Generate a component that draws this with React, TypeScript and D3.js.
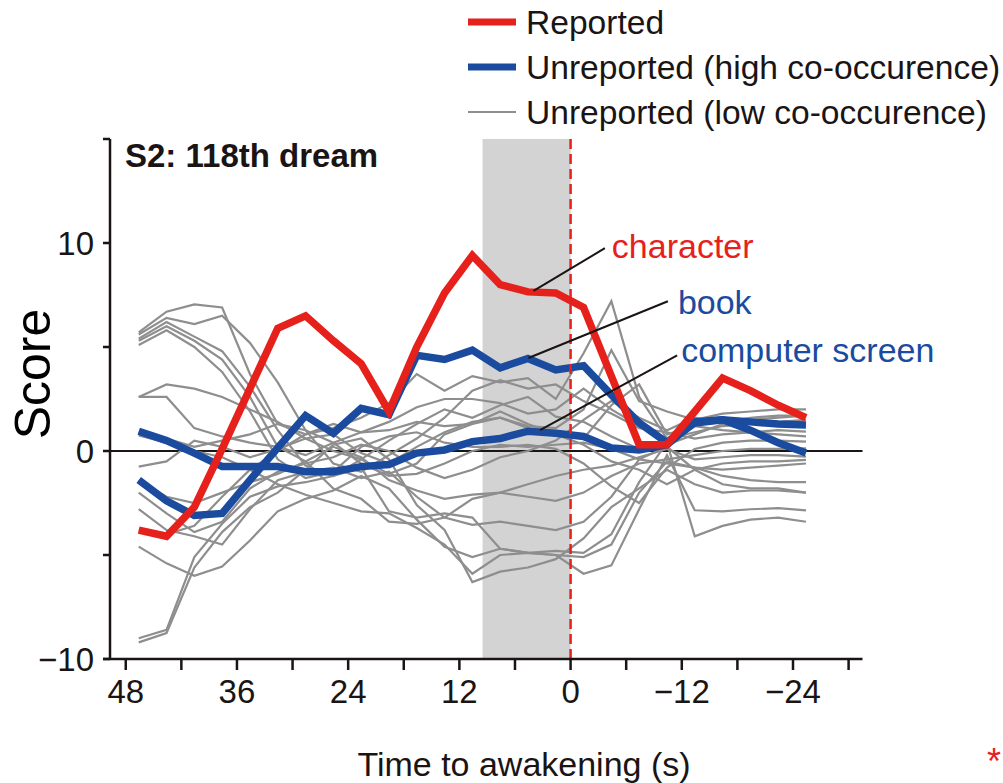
import React from 'react';
import * as d3 from 'd3';

// sample times (s before awakening)
const times = [46.6, 43.6, 40.6, 37.6, 34.6, 31.6, 28.6, 25.6, 22.6, 19.6, 16.6, 13.6, 10.6, 7.6, 4.6, 1.6, -1.4, -4.4, -7.4, -10.4, -13.4, -16.4, -19.4, -22.4, -25.4];

const reported = [-3.8, -4.1, -2.7, 0.1, 3.0, 5.9, 6.5, 5.3, 4.2, 1.9, 5.0, 7.6, 9.4, 8.0, 7.65, 7.6, 6.9, 3.6, 0.3, 0.3, 1.9, 3.5, 2.9, 2.2, 1.6];
const unreportedBook = [-1.4, -2.4, -3.1, -3.0, -1.4, 0.15, 1.7, 0.85, 2.05, 1.75, 4.6, 4.4, 4.85, 4.0, 4.45, 3.9, 4.1, 2.7, 1.35, 0.4, 1.35, 1.5, 1.0, 0.4, -0.1];
const unreportedScreen = [0.95, 0.5, -0.1, -0.75, -0.75, -0.75, -1.0, -1.0, -0.75, -0.65, -0.1, 0.05, 0.45, 0.6, 0.95, 0.85, 0.7, 0.15, 0.05, 0.3, 1.4, 1.5, 1.4, 1.3, 1.25];

const low01 = [5.7, 6.7, 7.05, 6.9, 3.7, 1.3, 0.8, 1.1, 1.6, 2.3, 3.7, 2.9, 3.6, 3.3, 3.5, 2.5, 4.7, 7.2, 2.6, 0.6, 1.5, 1.8, 1.9, 2.0, 2.0];
const low02 = [5.6, 6.4, 6.1, 6.5, 5.2, 3.3, 1.0, -0.6, -1.0, -0.2, 0.6, 1.6, 2.9, 3.4, 3.0, 3.2, 2.4, 1.8, 1.1, 0.9, 0.6, 0.8, 0.9, 1.0, 0.93];
const low03 = [5.4, 6.2, 5.5, 4.8, 3.1, 1.0, -0.7, -1.2, -0.4, 0.5, 1.3, 2.0, 1.6, 2.2, 2.6, 1.65, 1.4, 0.7, 0.1, 0.3, 0.8, 1.3, 1.5, 1.6, 1.7];
const low04 = [5.3, 6.0, 5.3, 4.4, 2.6, 0.2, -0.2, 0.4, 0.9, 1.0, 1.4, 1.2, 1.3, 1.9, 1.3, 0.8, 0.3, -0.5, -0.9, -1.6, -0.9, -0.6, -0.5, -0.5, -0.43];
const low05 = [5.1, 5.8, 5.0, 3.8, 1.9, -0.4, -1.3, -1.0, 0.2, 0.7, 0.9, 0.4, 0.2, 0.2, 0.3, 0.1, -0.6, -1.7, -2.5, -0.8, 0.1, 0.4, 0.5, 0.5, 0.45];
const low06 = [2.6, 3.2, 3.0, 2.6, 2.0, 1.4, 0.6, 0.0, -0.4, -1.1, -0.6, 0.8, 1.3, 1.6, 1.1, 0.8, 0.6, 2.2, 3.2, 0.8, 1.2, 1.0, 0.9, 0.8, 0.7];
const low07 = [2.6, 2.6, 1.1, 0.7, 0.4, 0.2, -0.5, -1.8, -2.3, -3.4, -3.5, -3.2, -2.3, -2.0, -2.2, -2.4, -2.0, -1.2, -0.6, -0.4, -0.2, 0.0, 0.1, 0.1, 0.13];
const low08 = [0.75, 0.4, 0.0, -0.3, -0.9, -1.6, -2.1, -2.5, -2.9, -3.0, -3.7, -4.5, -5.9, -5.0, -4.9, -5.0, -5.1, -4.5, -2.0, -0.5, -0.8, -1.2, -1.4, -1.5, -1.5];
const low09 = [-0.75, -0.5, 0.5, 0.2, -0.3, 0.1, 0.6, 0.8, -0.1, -0.6, 0.2, 0.9, 1.4, 1.6, 1.2, 1.1, 2.0, 4.85, 2.4, 1.9, 1.5, 1.4, 1.6, 1.7, 1.7];
const low10 = [-2.0, -3.0, -3.9, -3.4, -1.8, -1.0, -0.6, -0.3, 0.3, 0.0, -0.8, -1.3, -0.9, -0.3, 0.0, 0.5, 1.5, 2.4, 1.6, 1.0, 1.6, 1.4, 1.3, 1.3, 1.25];
const low11 = [-2.8, -3.8, -4.1, -4.5, -2.8, -1.4, -1.0, -0.8, -1.3, -1.0, -2.2, -3.2, -3.55, -3.4, -3.6, -3.8, -3.4, -2.2, -0.4, 0.2, -0.9, -1.6, -1.8, -1.8, -2.0];
const low12 = [-4.6, -5.4, -6.0, -5.55, -4.3, -2.9, -2.3, -1.9, -1.2, -1.8, -3.3, -4.6, -5.1, -4.7, -4.9, -5.0, -5.9, -5.5, -2.8, -0.2, -2.85, -2.9, -2.8, -2.75, -2.85];
const low13 = [-9.0, -8.6, -5.1, -3.5, -2.2, -1.7, -1.5, -1.2, -0.8, -2.9, -3.2, -3.0, -3.2, -4.7, -4.9, -4.8, -4.9, -4.0, -1.5, 0.4, -4.1, -3.6, -3.3, -3.2, -3.4];
const low14 = [-9.2, -8.75, -5.6, -3.9, -2.7, -2.0, -0.9, 0.3, 0.6, -0.4, -2.6, -3.8, -6.3, -5.8, -5.6, -5.2, -4.2, -2.7, -1.8, -0.9, -1.6, -2.0, -1.9, -1.9, -2.0];
const low15 = [-3.8, -4.0, -3.6, -2.2, -0.9, 0.0, 0.8, 1.3, 0.9, 1.4, 2.1, 2.5, 2.5, 2.3, 1.8, 2.0, 3.0, 2.0, 1.2, 0.6, 0.9, 1.2, 1.3, 1.4, 1.5];
const low16 = [-1.4, -2.2, -2.5, -2.0, -1.5, -1.1, -0.5, 0.2, -0.3, -1.4, -1.9, -2.3, -2.1, -2.0, -1.6, -1.2, -0.9, -0.7, -0.3, 0.1, -0.4, -0.3, -0.2, -0.2, -0.27];
const low17 = [0.9, 0.6, 0.2, 0.5, 0.8, 1.3, 1.0, 0.4, -0.6, -1.2, -1.1, -0.6, 0.0, 0.3, 0.2, 0.3, 0.4, 0.1, -0.4, -0.6, -0.8, -0.9, -0.8, -0.7, -0.6];

const lowSeries = [low01, low02, low03, low04, low05, low06, low07, low08, low09, low10, low11, low12, low13, low14, low15, low16, low17];

const xTicks = [48, 42, 36, 30, 24, 18, 12, 6, 0, -6, -12, -18, -24, -30];
const xLabels = [48, 36, 24, 12, 0, -12, -24];
const yTicks = [-10, -5, 0, 5, 10, 15];
const yLabels = [-10, 0, 10];
const shade = [9.5, 0];

const legendItems = ['Reported', 'Unreported (high co-occurence)', 'Unreported (low co-occurence)'];

// annotation anchors (time, score) and label ends (time, score)
const annotations = [
  { text: 'character', anchor: [4.0, 7.7], end: [-3.7, 9.75], kind: 'red', dx: 7, dy: 10 },
  { text: 'book', anchor: [4.55, 4.47], end: [-10.5, 7.2], kind: 'blue', dx: 10, dy: 13 },
  { text: 'computer screen', anchor: [3.3, 1.0], end: [-11.5, 4.6], kind: 'blue', dx: 4, dy: 7 },
];

const RED = '#e6211b';
const BLUE = '#1b4b9e';
const GRAY = '#8e8e8e';
const INK = '#1a1414';
const FONT = '"Liberation Sans", Arial, Helvetica, sans-serif';

export default function App() {
  const x = d3.scaleLinear().domain([49.7, -31.5]).range([110, 862.5]);
  const y = d3.scaleLinear().domain([-10, 15]).range([659, 139]);
  const line = d3
    .line<number>()
    .x((_, i) => x(times[i]))
    .y((d) => y(d));
  const fmt = (v: number) => (v < 0 ? '\u2212' + Math.abs(v) : String(v));
  const colorOf = (k: string) => (k === 'red' ? RED : BLUE);

  return (
    <svg
      width={1003}
      height={783}
      style={{ position: 'absolute', left: 0, top: 0, background: '#fff' }}
      fontFamily={FONT}
    >
      {/* shaded window */}
      <rect x={x(shade[0])} y={y(15)} width={x(shade[1]) - x(shade[0])} height={y(-10) - y(15)} fill="#d3d3d3" />
      {/* zero line */}
      <line x1={x(49.7)} x2={x(-31.5)} y1={y(0)} y2={y(0)} stroke={INK} strokeWidth={2} />
      {/* low co-occurrence */}
      {lowSeries.map((s, i) => (
        <path key={i} d={line(s) || ''} fill="none" stroke={GRAY} strokeWidth={2.2} />
      ))}
      <path d={line(unreportedScreen) || ''} fill="none" stroke={BLUE} strokeWidth={7.5} />
      <path d={line(unreportedBook) || ''} fill="none" stroke={BLUE} strokeWidth={7.5} />
      <path d={line(reported) || ''} fill="none" stroke={RED} strokeWidth={7.5} />
      {/* dashed awakening line */}
      <line x1={x(0)} x2={x(0)} y1={y(15)} y2={y(-10)} stroke={RED} strokeWidth={2.5} strokeDasharray="10,5" />
      {/* annotations */}
      {annotations.map((a) => (
        <g key={a.text}>
          <line x1={x(a.anchor[0])} y1={y(a.anchor[1])} x2={x(a.end[0])} y2={y(a.end[1])} stroke={INK} strokeWidth={2} />
          <text x={x(a.end[0]) + a.dx} y={y(a.end[1]) + a.dy} fill={colorOf(a.kind)} fontSize={34}>
            {a.text}
          </text>
        </g>
      ))}
      {/* y axis */}
      <line x1={x(49.7)} x2={x(49.7)} y1={y(15)} y2={y(-10) + 1} stroke={INK} strokeWidth={2.5} />
      {yTicks.map((t) => (
        <line key={t} x1={x(49.7) - 7} x2={x(49.7)} y1={y(t)} y2={y(t)} stroke={INK} strokeWidth={2.5} />
      ))}
      {yLabels.map((t) => (
        <text key={t} x={94} y={y(t) + 12} textAnchor="end" fontSize={33} fill={INK}>
          {fmt(t)}
        </text>
      ))}
      <text transform={`translate(50,${y(3.7)}) rotate(-90)`} textAnchor="middle" fontSize={50} fill="#000">
        Score
      </text>
      {/* x axis */}
      <line x1={x(49.7) - 7} x2={x(-31.5)} y1={y(-10)} y2={y(-10)} stroke={INK} strokeWidth={2.5} />
      {xTicks.map((t) => (
        <line key={t} x1={x(t)} x2={x(t)} y1={y(-10)} y2={y(-10) + 11} stroke={INK} strokeWidth={2.5} />
      ))}
      {xLabels.map((t) => (
        <text key={t} x={x(t)} y={703} textAnchor="middle" fontSize={33} fill={INK}>
          {fmt(t)}
        </text>
      ))}
      <text x={524} y={776} textAnchor="middle" fontSize={34} fill={INK}>
        Time to awakening (s)
      </text>
      <text x={987} y={774} fontSize={36} fill={RED}>
        *
      </text>
      {/* title */}
      <text x={125} y={167} fontSize={33} fontWeight="bold" fill={INK}>
        S2: 118th dream
      </text>
      {/* legend */}
      {legendItems.map((l, i) => (
        <g key={l}>
          <line
            x1={468}
            x2={516}
            y1={22 + i * 45}
            y2={22 + i * 45}
            stroke={i === 0 ? RED : i === 1 ? BLUE : GRAY}
            strokeWidth={i === 2 ? 2.2 : 7}
          />
          <text x={526} y={34 + i * 45} fontSize={33.6} fill={INK}>
            {l}
          </text>
        </g>
      ))}
    </svg>
  );
}
